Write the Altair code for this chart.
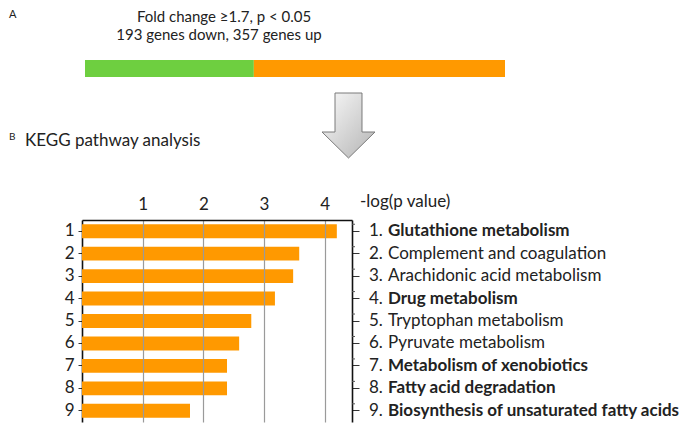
import altair as alt
import pandas as pd

# ---------------- data ----------------
ranks = ["1", "2", "3", "4", "5", "6", "7", "8", "9"]
neg_log_p = [4.2, 3.58, 3.48, 3.18, 2.79, 2.59, 2.39, 2.39, 1.78]
pathways = [
    "Glutathione metabolism",
    "Complement and coagulation",
    "Arachidonic acid metabolism",
    "Drug metabolism",
    "Tryptophan metabolism",
    "Pyruvate metabolism",
    "Metabolism of xenobiotics",
    "Fatty acid degradation",
    "Biosynthesis of unsaturated fatty acids",
]
is_bold = [True, False, False, True, False, False, True, True, True]
x_tick_values = [1, 2, 3, 4]
x_max = 4.45

segment_names = ["down", "up"]
segment_start = [0.0, 0.402]
segment_end = [0.402, 1.0]
segment_colors = ["#6ECF40", "#FF9900"]

header_lines = ["Fold change \u22651.7, p < 0.05", "193 genes down, 357 genes up"]
panel_a = "A"
panel_b = "B"
panel_b_title = "KEGG pathway analysis"
x_title = "-log(p value)"

# ---------------- layout ----------------
W, H = 270, 202
FONT = "Lato"
TXT = "#222222"
ORANGE = "#FF9900"
LBL = 17

df = pd.DataFrame({
    "rank": ranks,
    "value": neg_log_p,
    "name": pathways,
    "bold": is_bold,
})
df["num"] = df["rank"] + "."

seg_df = pd.DataFrame({"seg": segment_names, "start": segment_start, "end": segment_end})

y_scale = alt.Scale(domain=ranks, paddingInner=0.38, paddingOuter=0.19)


def label(text, x, y, size=15, align="left", weight="normal"):
    return alt.Chart(pd.DataFrame({"t": [text]})).mark_text(
        align=align, baseline="middle", font=FONT, fontSize=size,
        fontWeight=weight, color=TXT
    ).encode(text="t:N", x=alt.value(x), y=alt.value(y))


bars = alt.Chart(df).mark_bar(color=ORANGE).encode(
    x=alt.X(
        "value:Q",
        scale=alt.Scale(domain=[0, x_max], nice=False, zero=True),
        axis=alt.Axis(
            orient="top", values=x_tick_values, ticks=False, grid=True,
            gridColor="#9a9a9a", gridWidth=1.2, domainColor="#111111",
            domainWidth=1.6, labelPadding=7, labelFontSize=LBL, labelFont=FONT,
            labelColor=TXT, title=None, zindex=1, format="d",
        ),
    ),
    y=alt.Y(
        "rank:N", sort=ranks, scale=y_scale,
        axis=alt.Axis(
            orient="left", tickSize=4, labelPadding=4, domainColor="#111111",
            domainWidth=1.6, tickColor="#333333", labelFontSize=LBL,
            labelFont=FONT, labelColor=TXT, title=None, grid=False, labelAngle=0,
        ),
    ),
)

num_labels = alt.Chart(df).mark_text(
    align="left", baseline="middle", font=FONT, fontSize=LBL, color=TXT
).encode(
    y=alt.Y(
        "rank:N", sort=ranks, scale=y_scale,
        axis=alt.Axis(
            orient="right", labels=False, tickSize=7, domainColor="#111111",
            domainWidth=1.6, tickColor="#333333", title=None, grid=False,
        ),
    ),
    text="num:N",
    x=alt.value(287),
)

minor_ticks = alt.Chart(df).mark_rule(color="#555555", strokeWidth=1).encode(
    y=alt.Y("rank:N", sort=ranks, scale=y_scale, bandPosition=0, axis=None),
    x=alt.value(W),
    x2=alt.value(W + 3),
)

name_bold = alt.Chart(df).transform_filter("datum.bold").mark_text(
    align="left", baseline="middle", font=FONT, fontSize=LBL,
    fontWeight="bold", color=TXT
).encode(
    y=alt.Y("rank:N", sort=ranks, scale=y_scale, axis=None),
    text="name:N",
    x=alt.value(306),
)

name_normal = alt.Chart(df).transform_filter("!datum.bold").mark_text(
    align="left", baseline="middle", font=FONT, fontSize=LBL, color=TXT
).encode(
    y=alt.Y("rank:N", sort=ranks, scale=y_scale, axis=None),
    text="name:N",
    x=alt.value(306),
)

top_bar = alt.Chart(seg_df).mark_bar().encode(
    x=alt.X("start:Q", scale=alt.Scale(domain=[0, 1], range=[3, 423], nice=False), axis=None),
    x2="end:Q",
    y=alt.value(-160),
    y2=alt.value(-143),
    color=alt.Color("seg:N", scale=alt.Scale(domain=segment_names, range=segment_colors), legend=None),
)

arrow_path = ("M-0.415,-1 L0.415,-1 L0.415,0.2 L0.815,0.2 L0,1 "
              "L-0.815,0.2 L-0.415,0.2 Z")
arrow = alt.Chart(pd.DataFrame({"a": [0]})).mark_point(
    shape=arrow_path, size=4225, filled=True, opacity=1,
    fill=alt.Gradient(
        gradient="linear",
        stops=[alt.GradientStop(offset=0, color="#fafafa"),
               alt.GradientStop(offset=1, color="#b4b4b4")],
        x1=0, y1=0, x2=1, y2=1,
    ),
    stroke="#7a7a7a", strokeWidth=1,
).encode(x=alt.value(266.5), y=alt.value(-94.5))

texts = [
    label(panel_a, -73, -205, size=11),
    label(header_lines[0], 142, -203, size=15, align="center"),
    label(header_lines[1], 137, -185, size=15, align="center"),
    label(panel_b, -73, -83, size=10),
    label(panel_b_title, -57, -79, size=17),
    label(x_title, 278, -18, size=LBL),
]

chart = alt.layer(
    bars, num_labels, minor_ticks, name_bold, name_normal, top_bar, arrow, *texts
).resolve_scale(
    x="independent", color="independent"
).resolve_axis(
    y="independent", x="independent"
).properties(
    width=W, height=H,
    autosize=alt.AutoSizeParams(type="none"),
    padding={"left": 74, "top": 212, "right": 333, "bottom": 3},
).configure_view(stroke=None)

chart.save("out.html", embed_options={"renderer": "svg", "actions": False})
